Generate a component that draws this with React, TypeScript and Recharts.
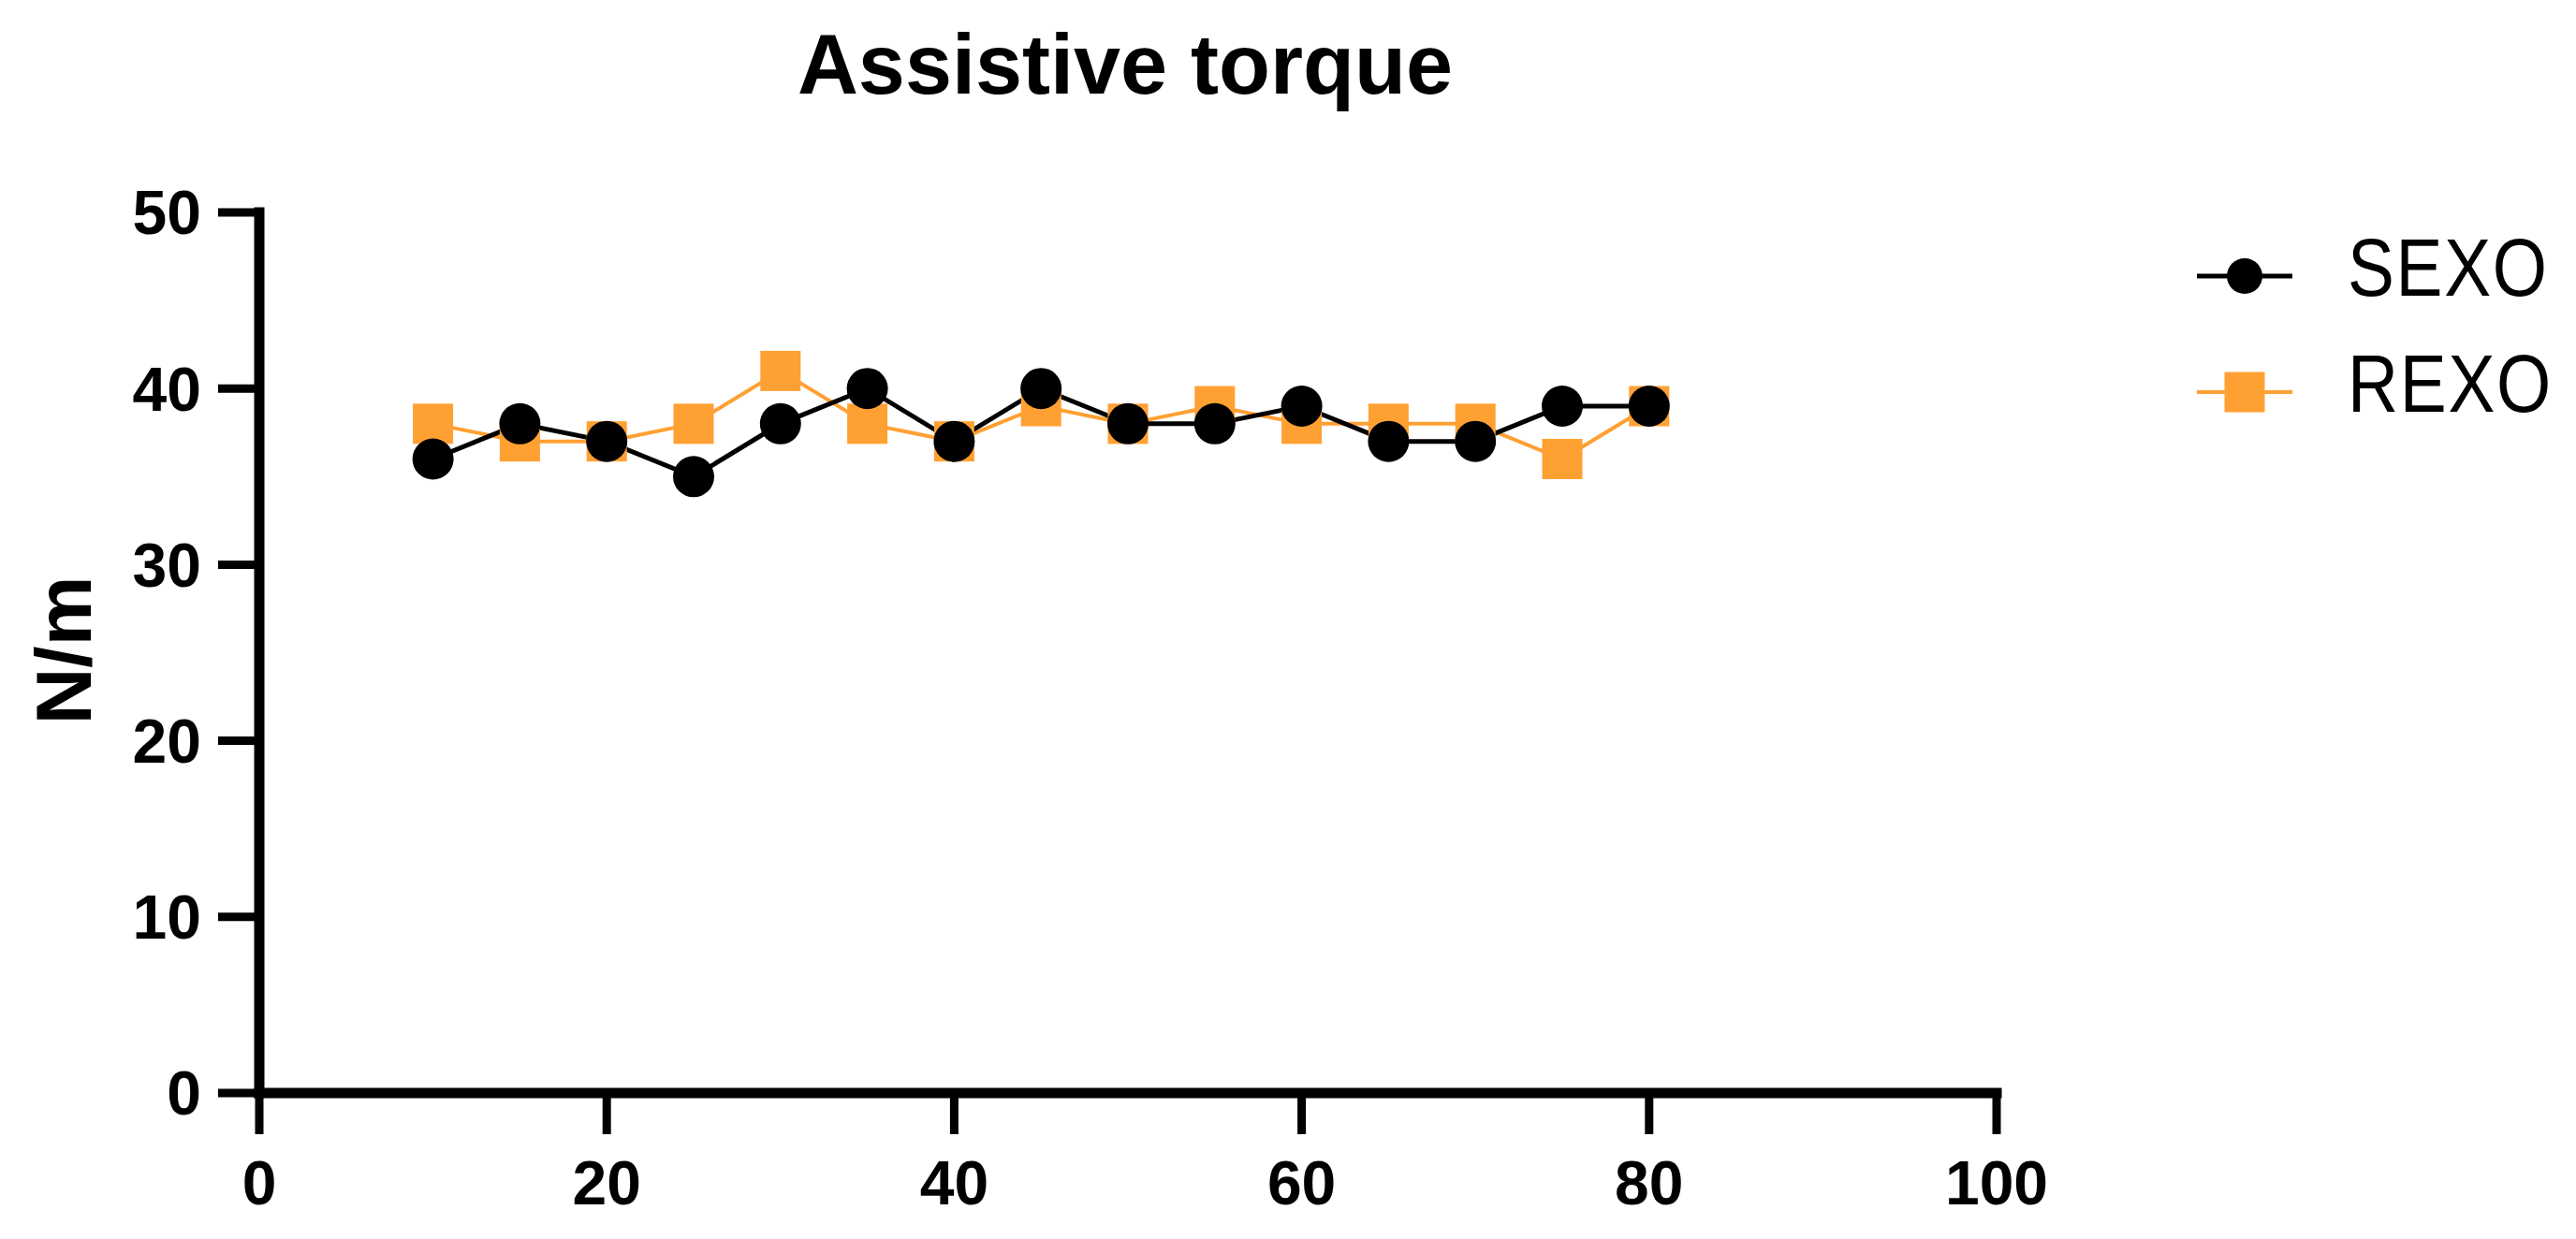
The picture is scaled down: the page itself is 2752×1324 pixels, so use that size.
import { Legend, Line, LineChart, XAxis, YAxis } from "recharts";

const angles = [10, 15, 20, 25, 30, 35, 40, 45, 50, 55, 60, 65, 70, 75, 80];
const sexoTorque = [36, 38, 37, 35, 38, 40, 37, 40, 38, 38, 39, 37, 37, 39, 39];
const rexoTorque = [38, 37, 37, 38, 41, 38, 37, 39, 38, 39, 38, 38, 38, 36, 39];
const xTicks = [0, 20, 40, 60, 80, 100];
const yTicks = [0, 10, 20, 30, 40, 50];

const data = angles.map((x, i) => ({ x, sexo: sexoTorque[i], rexo: rexoTorque[i] }));

const ORANGE = "#FFA033";
const ARIAL = "'Liberation Sans', Arial, sans-serif";

const tickStyle = { fontFamily: ARIAL, fontWeight: 700, fontSize: 66, fill: "#000" };
const axisLine = { stroke: "#000", strokeWidth: 11, strokeLinecap: "square" as const };
const tickLine = { stroke: "#000", strokeWidth: 9 };

function SquareDot(props: any) {
  const { cx, cy } = props;
  if (cx == null || cy == null) return null;
  return <rect x={cx - 21.5} y={cy - 21.5} width={43} height={43} fill={ORANGE} />;
}

function CircleDot(props: any) {
  const { cx, cy } = props;
  if (cx == null || cy == null) return null;
  return <circle cx={cx} cy={cy} r={22} fill="#000" />;
}

const legendItems = [
  { name: "SEXO", color: "#000", square: false },
  { name: "REXO", color: ORANGE, square: true },
];

function ChartLegend() {
  return (
    <div>
      {legendItems.map((item) => (
        <div key={item.name} style={{ display: "flex", alignItems: "center", height: 124 }}>
          <svg width={102} height={50} style={{ position: "relative", top: 9 }}>
            <line x1={0} x2={102} y1={25} y2={25} stroke={item.color} strokeWidth={item.square ? 4 : 5} />
            {item.square ? (
              <rect x={29.5} y={3.5} width={43} height={43} fill={item.color} />
            ) : (
              <circle cx={51} cy={25} r={19} fill={item.color} />
            )}
          </svg>
          <span
            style={{
              marginLeft: 59,
              fontFamily: ARIAL,
              fontSize: 87,
              color: "#000",
              display: "inline-block",
              transform: "scaleX(0.86)",
              transformOrigin: "left center",
              letterSpacing: 2,
            }}
          >
            {item.name}
          </span>
        </div>
      ))}
    </div>
  );
}

export default function App() {
  return (
    <div style={{ position: "relative", width: 2736, height: 1308, background: "#fff" }}>
      <div
        style={{
          position: "absolute",
          left: 1194 - 600,
          width: 1200,
          top: 16,
          textAlign: "center",
          fontFamily: ARIAL,
          fontWeight: 700,
          fontSize: 90,
          lineHeight: "90px",
          color: "#000",
        }}
      >
        Assistive torque
      </div>
      <LineChart width={2736} height={1308} data={data} margin={{ top: 219, right: 611, bottom: 0, left: 0 }}>
        <XAxis
          type="number"
          dataKey="x"
          domain={[0, 100]}
          ticks={xTicks}
          interval={0}
          height={148}
          tickSize={44}
          tickMargin={28}
          axisLine={axisLine}
          tickLine={tickLine}
          tick={tickStyle}
        />
        <YAxis
          type="number"
          domain={[0, 50]}
          ticks={yTicks}
          interval={0}
          width={269}
          tickSize={44}
          tickMargin={18}
          axisLine={axisLine}
          tickLine={tickLine}
          tick={tickStyle}
          label={{
            content: () => (
              <text
                x={89}
                y={687}
                transform="rotate(-90 89 687)"
                textAnchor="middle"
                fontFamily={ARIAL}
                fontWeight={700}
                fontSize={84}
                fill="#000"
              >
                N/m
              </text>
            ),
          }}
        />
        <Legend
          layout="vertical"
          align="center"
          verticalAlign="middle"
          content={() => <ChartLegend />}
          wrapperStyle={{ top: 216, left: 2339, width: 420 }}
        />
        <Line
          dataKey="rexo"
          name="REXO"
          stroke={ORANGE}
          strokeWidth={4}
          dot={(p: any) => <SquareDot key={`r-${p.index}`} {...p} />}
          activeDot={false}
          isAnimationActive={false}
        />
        <Line
          dataKey="sexo"
          name="SEXO"
          stroke="#000"
          strokeWidth={5}
          dot={(p: any) => <CircleDot key={`s-${p.index}`} {...p} />}
          activeDot={false}
          isAnimationActive={false}
        />
      </LineChart>
    </div>
  );
}
